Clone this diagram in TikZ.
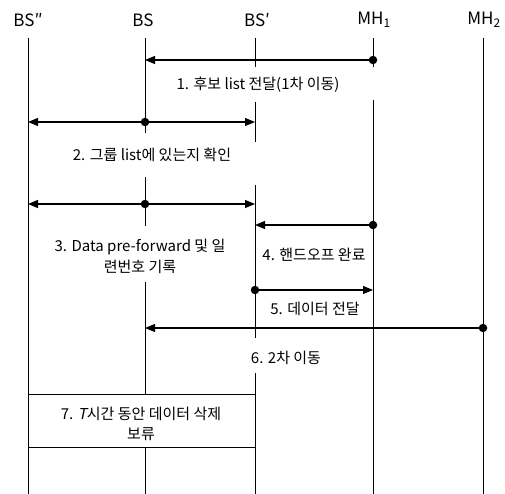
\documentclass[tikz,border=0pt]{standalone}
\usepackage{fontspec}
\setmainfont{Noto Sans CJK KR}
\newfontfamily\slfont{Noto Sans CJK KR}[FakeSlant=0.2]
\usetikzlibrary{arrows.meta}
\begin{document}
\begin{tikzpicture}[x=1pt,y=-1pt,
  life/.style={line width=0.8pt},
  msg/.style={line width=1.1pt,-{Triangle[length=10pt,width=8pt]}},
  dotnode/.style={circle,fill=black,inner sep=0pt,minimum size=8.5pt},
  head/.style={font=\fontsize{17}{19}\selectfont,inner sep=0pt},
  lbl/.style={font=\fontsize{15}{21}\selectfont,align=center,inner sep=0pt}]
\useasboundingbox (0,0) rectangle (505,494);
% headers
\node[head] (hA) at (28,20) {BS″};
\node[head] (hB) at (143,20) {BS};
\node[head] (hC) at (257,20) {BS′};
\node[head] (hD) at (374,20) {MH\textsubscript{1}};
\node[head] (hE) at (484,20) {MH\textsubscript{2}};
% lifeline coordinates
\foreach \n/\x in {A/28,B/145,C/255,D/373,E/483}{
  \coordinate (t\n) at (\x,38);
  \coordinate (b\n) at (\x,494);
}
% lifelines with gaps
\draw[life] (tA) -- (bA);
\draw[life] (tB) -- (145,133) (145,177) -- (145,226) (145,282) -- (145,394) (145,447) -- (bB);
\draw[life] (tC) -- (255,67) (255,102) -- (255,142) (255,185) -- (255,338) (255,373) -- (bC);
\draw[life] (tD) -- (373,67) (373,100) -- (bD);
\draw[life] (tE) -- (bE);
% box 7
\node[draw,life,fill=white,minimum width=227pt,minimum height=53pt,inner sep=0pt] (b7) at (141.5,420.5) {};
\node[lbl,font=\fontsize{15}{20}\selectfont] (l7) at (141,424)
      {7. {\slfont T}시간 동안 데이터 삭제\\보류};
% message 1
\node[dotnode] (d1) at (373,60) {};
\coordinate (e1) at (145,60);
\draw[msg] (d1) -- (e1);
\node[lbl] (l1) at (258,85) {1. 후보 list 전달(1차 이동)};
% message 2
\node[dotnode] (d2) at (145,122) {};
\coordinate (e2a) at (28,122);
\coordinate (e2b) at (255,122);
\draw[msg] (d2) -- (e2a);
\draw[msg] (d2) -- (e2b);
\node[lbl] (l2) at (152,155) {2. 그룹 list에 있는지 확인};
% message 3
\node[dotnode] (d3) at (145,204) {};
\coordinate (e3a) at (28,204);
\coordinate (e3b) at (255,204);
\draw[msg] (d3) -- (e3a);
\draw[msg] (d3) -- (e3b);
\node[lbl] (l3) at (140,256.5) {3. Data pre-forward 및 일\\련번호 기록};
% message 4
\node[dotnode] (d4) at (373,225) {};
\coordinate (e4) at (255,225);
\draw[msg] (d4) -- (e4);
\node[lbl] (l4) at (314,255) {4. 핸드오프 완료};
% message 5
\node[dotnode] (d5) at (255,290) {};
\coordinate (e5) at (373,290);
\draw[msg] (d5) -- (e5);
\node[lbl] (l5) at (315,309) {5. 데이터 전달};
% message 6
\node[dotnode] (d6) at (483,328) {};
\coordinate (e6) at (145,328);
\draw[msg] (d6) -- (e6);
\node[lbl] (l6) at (286,358) {6. 2차 이동};
\end{tikzpicture}
\end{document}
